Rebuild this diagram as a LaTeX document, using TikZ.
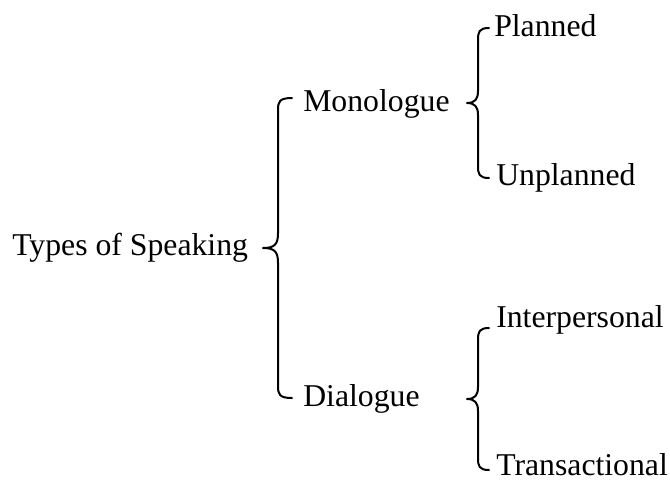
\documentclass[tikz,border=0pt]{standalone}
\usepackage{fontspec}
\setmainfont{Liberation Serif}
\tikzset{
  brc/.style={line width=1.5pt, line cap=round, line join=round},
  lbl/.style={anchor=base west, inner sep=0pt, font=\fontsize{23.8}{28}\selectfont}
}
% #1 hook end x, #2 vertical x, #3 tip x, #4 top y, #5 mid y, #6 bottom y, #7 tip radius
\newcommand\mybrace[7]{%
  \draw[brc] (#1,#4) .. controls (#2+1,#4) and (#2,#4+4) .. (#2,#4+12) -- (#2,#5-#7)
    .. controls (#2,#5-4) and (#2-3,#5) .. (#3,#5) .. controls (#2-3,#5) and (#2,#5+4) .. (#2,#5+#7)
    -- (#2,#6-12) .. controls (#2,#6-4) and (#2+1,#6) .. (#1,#6);}
\begin{document}
\begin{tikzpicture}[x=0.75pt,y=-0.75pt]
\useasboundingbox (0,0) rectangle (670,480);
\node[lbl] (types) at (12,255) {Types of Speaking};
\node[lbl] (mono) at (303,111) {Monologue};
\node[lbl] (dia) at (303,406) {Dialogue};
\node[lbl] (plan) at (494,36) {Planned};
\node[lbl] (unplan) at (496,185) {Unplanned};
\node[lbl] (inter) at (496,327) {Interpersonal};
\node[lbl] (trans) at (496,475) {Transactional};
\mybrace{292}{278}{263}{98}{248}{398}{15}
\mybrace{489}{478}{467}{28}{103}{178}{12}
\mybrace{489}{478}{467}{328}{399}{470}{12}
\end{tikzpicture}
\end{document}
